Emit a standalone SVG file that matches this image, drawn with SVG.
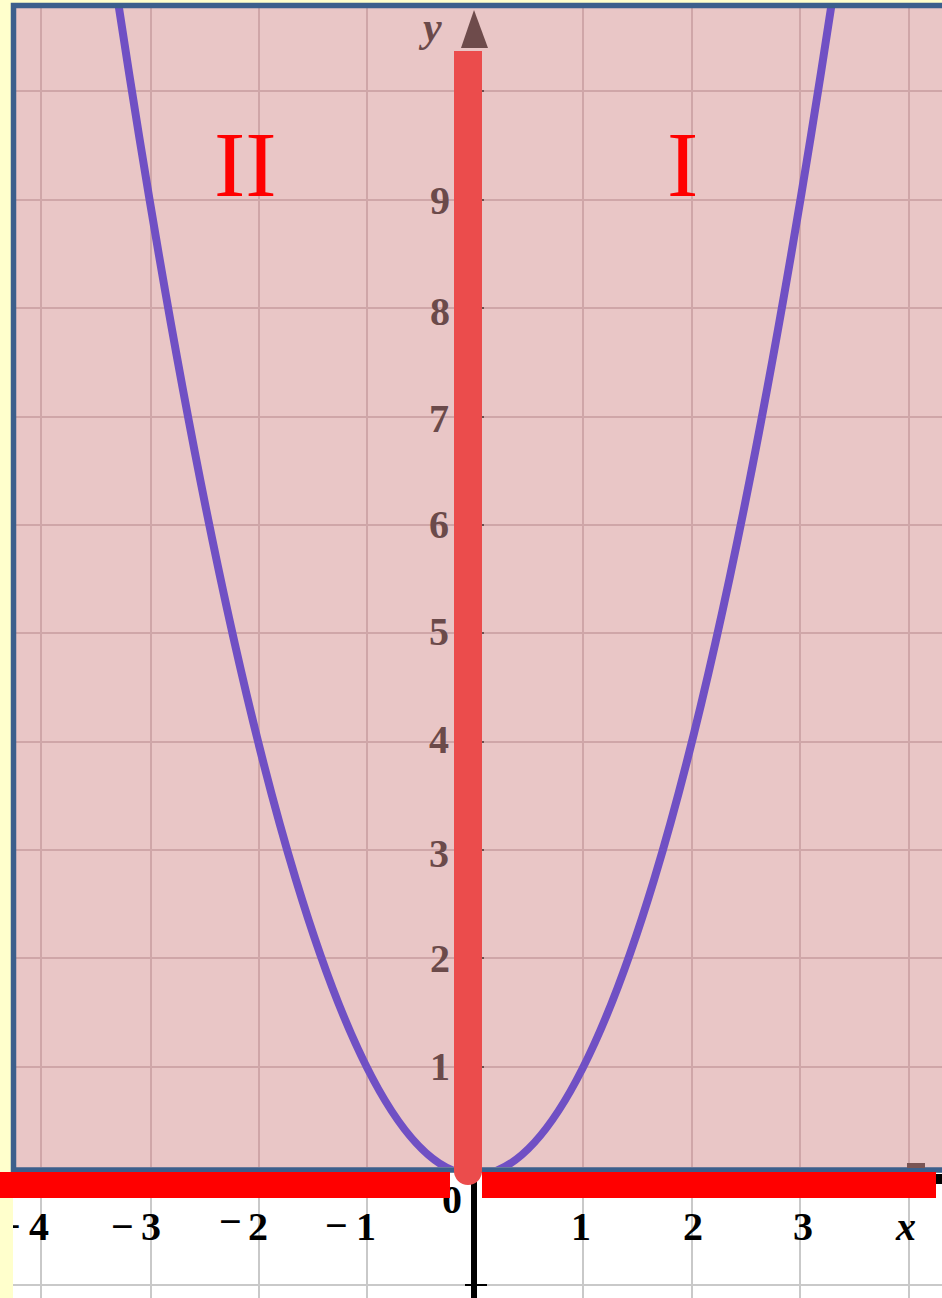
<svg xmlns="http://www.w3.org/2000/svg" width="942" height="1298" viewBox="0 0 942 1298">
  <defs>
    <clipPath id="plot">
      <rect x="16" y="8" width="926" height="1159"/>
    </clipPath>
    <style>
      .pgrid { stroke: #CFA6A8; stroke-width: 2; }
      .wgrid { stroke: #C9C9C9; stroke-width: 2; }
      .ylab { font-family: "Liberation Serif", "Times New Roman", serif; font-size: 40px; font-weight: bold; fill: #6B4A4A; text-anchor: end; }
      .xlab { font-family: "Liberation Serif", "Times New Roman", serif; font-size: 40px; font-weight: bold; fill: #000000; }
      .roman { font-family: "Liberation Serif", "Times New Roman", serif; font-size: 94px; fill: #FF0000; }
      .tick { stroke: #4A3030; stroke-width: 1.5; }
    </style>
  </defs>

  <!-- backgrounds -->
  <rect x="0" y="0" width="942" height="1298" fill="#FFFFCC"/>
  <rect x="13" y="1173" width="929" height="125" fill="#FFFFFF"/>
  <g id="lower-grid">
    <line class="wgrid" x1="41" y1="1198" x2="41" y2="1298"/>
    <line class="wgrid" x1="151" y1="1198" x2="151" y2="1298"/>
    <line class="wgrid" x1="259" y1="1198" x2="259" y2="1298"/>
    <line class="wgrid" x1="367" y1="1198" x2="367" y2="1298"/>
    <line class="wgrid" x1="583" y1="1198" x2="583" y2="1298"/>
    <line class="wgrid" x1="692" y1="1198" x2="692" y2="1298"/>
    <line class="wgrid" x1="800" y1="1198" x2="800" y2="1298"/>
    <line class="wgrid" x1="909" y1="1198" x2="909" y2="1298"/>
    <line class="wgrid" x1="13" y1="1285" x2="942" y2="1285"/>
  </g>

  <!-- plot area -->
  <rect x="13.5" y="5.5" width="940" height="1164.5" fill="#E9C6C6"/>
  <g id="grid">
    <line class="pgrid" x1="41" y1="8" x2="41" y2="1167"/>
    <line class="pgrid" x1="151" y1="8" x2="151" y2="1167"/>
    <line class="pgrid" x1="259" y1="8" x2="259" y2="1167"/>
    <line class="pgrid" x1="367" y1="8" x2="367" y2="1167"/>
    <line class="pgrid" x1="583" y1="8" x2="583" y2="1167"/>
    <line class="pgrid" x1="692" y1="8" x2="692" y2="1167"/>
    <line class="pgrid" x1="800" y1="8" x2="800" y2="1167"/>
    <line class="pgrid" x1="909" y1="8" x2="909" y2="1167"/>
    <line class="pgrid" x1="16" y1="1067" x2="942" y2="1067"/>
    <line class="pgrid" x1="16" y1="958" x2="942" y2="958"/>
    <line class="pgrid" x1="16" y1="850" x2="942" y2="850"/>
    <line class="pgrid" x1="16" y1="742" x2="942" y2="742"/>
    <line class="pgrid" x1="16" y1="633" x2="942" y2="633"/>
    <line class="pgrid" x1="16" y1="525" x2="942" y2="525"/>
    <line class="pgrid" x1="16" y1="417" x2="942" y2="417"/>
    <line class="pgrid" x1="16" y1="308" x2="942" y2="308"/>
    <line class="pgrid" x1="16" y1="200" x2="942" y2="200"/>
    <line class="pgrid" x1="16" y1="91" x2="942" y2="91"/>
  </g>

  <g id="parabola" clip-path="url(#plot)">
    <path d="M116.95,-5.5 Q475,2355.5 833.05,-5.5" fill="none" stroke="#7050C4" stroke-width="8"/>
  </g>

  <!-- border -->
  <rect x="13.5" y="5.5" width="940" height="1164.5" fill="none" stroke="#3C5F8C" stroke-width="5.5"/>

  <!-- x-axis arrow remnants -->
  <rect x="907" y="1163" width="18" height="5" fill="#7A5555"/>
  <rect x="936" y="1174" width="6" height="10" fill="#000000"/>

  <!-- x labels -->
  <g id="x-labels">
    <text class="xlab"><tspan x="-2" y="1240">−</tspan><tspan x="29" y="1240">4</tspan></text>
    <text class="xlab"><tspan x="111" y="1240">−</tspan><tspan x="141" y="1240">3</tspan></text>
    <text class="xlab"><tspan x="219" y="1235">−</tspan><tspan x="248" y="1240">2</tspan></text>
    <text class="xlab"><tspan x="325" y="1239">−</tspan><tspan x="356" y="1240">1</tspan></text>
    <text class="xlab" x="442" y="1213">0</text>
    <text class="xlab" x="571" y="1240">1</text>
    <text class="xlab" x="683" y="1240">2</text>
    <text class="xlab" x="793" y="1240">3</text>
    <text class="xlab" x="896" y="1240" font-style="italic" font-size="44">x</text>
  </g>
  <!-- left yellow strip covering -->
  <rect x="0" y="1198" width="13" height="100" fill="#FFFFCC"/>

  <!-- horizontal red bars -->
  <g id="x-bar">
    <rect x="0" y="1172" width="450" height="26" fill="#FF0000"/>
    <rect x="482" y="1172" width="454" height="26" fill="#FF0000"/>
  </g>

  <!-- black y axis below -->
  <g id="connectors">
    <line x1="474" y1="1175" x2="474" y2="1298" stroke="#000000" stroke-width="6"/>
    <line x1="465" y1="1285" x2="487" y2="1285" stroke="#000000" stroke-width="2"/>
  </g>

  <!-- red vertical bar -->
  <g id="y-bar">
    <path d="M454,51 H482 V1171 A14,14 0 0 1 454,1171 Z" fill="#EB4C4C"/>
  </g>

  <!-- tiny ticks -->
  <g id="ticks">
    <line class="tick" x1="482" y1="1067" x2="484" y2="1067"/>
    <line class="tick" x1="482" y1="958" x2="484" y2="958"/>
    <line class="tick" x1="482" y1="850" x2="484" y2="850"/>
    <line class="tick" x1="482" y1="742" x2="484" y2="742"/>
    <line class="tick" x1="482" y1="633" x2="484" y2="633"/>
    <line class="tick" x1="482" y1="525" x2="484" y2="525"/>
    <line class="tick" x1="482" y1="417" x2="484" y2="417"/>
    <line class="tick" x1="482" y1="308" x2="484" y2="308"/>
    <line class="tick" x1="482" y1="200" x2="484" y2="200"/>
    <line class="tick" x1="482" y1="91" x2="484" y2="91"/>
  </g>

  <!-- y arrow -->
  <g id="y-arrow">
    <polygon points="474,10 461,48 488,48" fill="#6E4B4B"/>
  </g>
  <text id="y-label" x="423" y="41" font-family="Liberation Serif, Times New Roman, serif" font-size="42" font-style="italic" font-weight="bold" fill="#6B4A4A">y</text>

  <!-- y labels -->
  <g id="y-labels">
    <text class="ylab" x="450" y="1080">1</text>
    <text class="ylab" x="450" y="972">2</text>
    <text class="ylab" x="449" y="867">3</text>
    <text class="ylab" x="449" y="753">4</text>
    <text class="ylab" x="449" y="645">5</text>
    <text class="ylab" x="449" y="538">6</text>
    <text class="ylab" x="449" y="432" font-weight="normal" fill="#8A7070">7</text>
    <text class="ylab" x="450" y="325">8</text>
    <text class="ylab" x="450" y="214">9</text>
  </g>

  <!-- quadrant labels -->
  <g id="quadrant-II"><text class="roman" x="214" y="196">II</text></g>
  <g id="quadrant-I"><text class="roman" x="667" y="196">I</text></g>
</svg>
